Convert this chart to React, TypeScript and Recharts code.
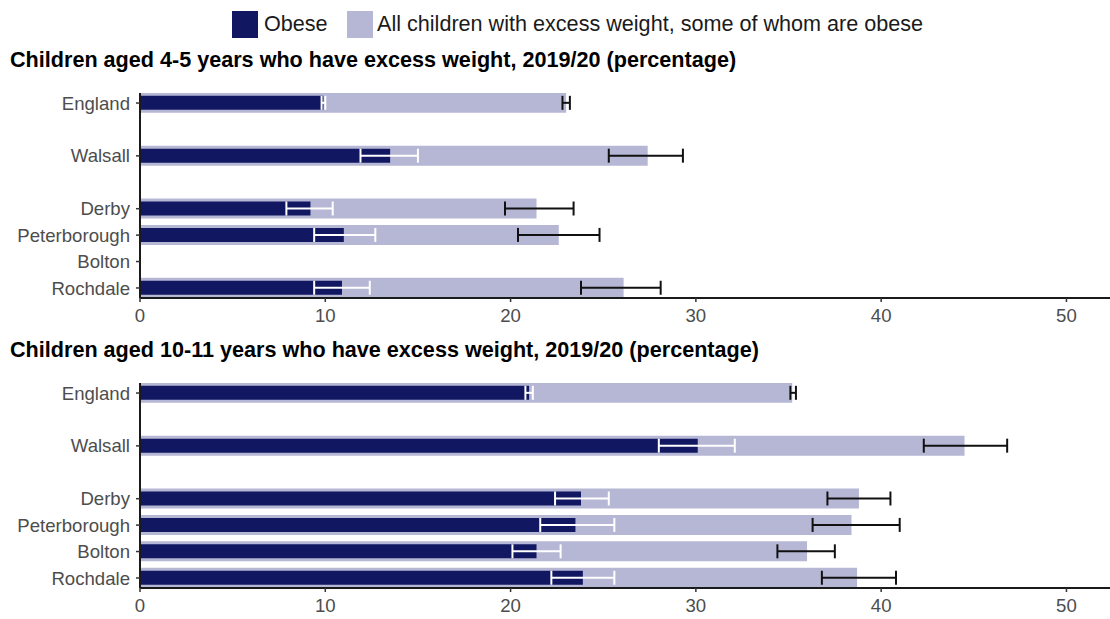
import React from "react";
import { BarChart, Bar, XAxis, YAxis, ErrorBar } from "recharts";

const categories = ["England", "Walsall", "Derby", "Peterborough", "Bolton", "Rochdale"];
const positions = [0, 2, 4, 5, 6, 7];
const xTicks = [0, 10, 20, 30, 40, 50];

// Children aged 4-5
const obese4: (number | null)[] = [9.9, 13.5, 9.2, 11.0, null, 10.9];
const obese4Lo: (number | null)[] = [9.8, 11.9, 7.9, 9.4, null, 9.4];
const obese4Hi: (number | null)[] = [10.0, 15.0, 10.4, 12.7, null, 12.4];
const excess4: (number | null)[] = [23.0, 27.4, 21.4, 22.6, null, 26.1];
const excess4Lo: (number | null)[] = [22.8, 25.3, 19.7, 20.4, null, 23.8];
const excess4Hi: (number | null)[] = [23.2, 29.3, 23.4, 24.8, null, 28.1];

// Children aged 10-11
const obese10: (number | null)[] = [21.0, 30.1, 23.8, 23.5, 21.4, 23.9];
const obese10Lo: (number | null)[] = [20.8, 28.0, 22.4, 21.6, 20.1, 22.2];
const obese10Hi: (number | null)[] = [21.2, 32.1, 25.3, 25.6, 22.7, 25.6];
const excess10: (number | null)[] = [35.2, 44.5, 38.8, 38.4, 36.0, 38.7];
const excess10Lo: (number | null)[] = [35.1, 42.3, 37.1, 36.3, 34.4, 36.8];
const excess10Hi: (number | null)[] = [35.4, 46.8, 40.5, 41.0, 37.5, 40.8];

const DARK = "#111761";
const LIGHT = "#b6b7d5";
const FONT = "'Liberation Sans', Arial, sans-serif";

function build(
  ob: (number | null)[], obLo: (number | null)[], obHi: (number | null)[],
  ex: (number | null)[], exLo: (number | null)[], exHi: (number | null)[]
) {
  return categories.map((name, i) => ({
    name,
    pos: positions[i],
    obese: ob[i],
    obeseErr: ob[i] == null ? null : [(ob[i] as number) - (obLo[i] as number), (obHi[i] as number) - (ob[i] as number)],
    excess: ex[i],
    excessErr: ex[i] == null ? null : [(ex[i] as number) - (exLo[i] as number), (exHi[i] as number) - (ex[i] as number)],
  }));
}

const data4 = build(obese4, obese4Lo, obese4Hi, excess4, excess4Lo, excess4Hi);
const data10 = build(obese10, obese10Lo, obese10Hi, excess10, excess10Lo, excess10Hi);

const labelFor = (v: number) => {
  const i = positions.indexOf(v);
  return i >= 0 ? categories[i] : "";
};

function Panel({ data, top }: { data: any[]; top: number }) {
  return (
    <div style={{ position: "absolute", left: 0, top }}>
      <BarChart
        width={1110}
        height={249}
        data={data}
        layout="vertical"
        margin={{ top: 13, right: 0, bottom: 0, left: 10 }}
      >
        <XAxis
          type="number"
          domain={[0, 52.35]}
          ticks={xTicks}
          allowDataOverflow
          interval={0}
          height={31}
          axisLine={{ stroke: "#1a1a1a", strokeWidth: 2 }}
          tickLine={{ stroke: "#333333", strokeWidth: 1.5 }}
          tickSize={4}
          tickMargin={7}
          tick={{ fill: "#4d4d4d", fontSize: 18.6, fontFamily: FONT }}
        />
        <YAxis
          yAxisId="a"
          type="number"
          dataKey="pos"
          domain={[-0.38, 7.38]}
          allowDataOverflow
          ticks={positions}
          interval={0}
          tickFormatter={labelFor}
          width={130}
          axisLine={{ stroke: "#1a1a1a", strokeWidth: 2 }}
          tickLine={{ stroke: "#333333", strokeWidth: 1.5 }}
          tickSize={4}
          tickMargin={6}
          tick={{ fill: "#4d4d4d", fontSize: 18.6, fontFamily: FONT }}
        />
        <YAxis
          yAxisId="b"
          type="number"
          dataKey="pos"
          domain={[-0.38, 7.38]}
          allowDataOverflow
          hide
        />
        <Bar yAxisId="a" dataKey="excess" fill={LIGHT} barSize={20} isAnimationActive={false}>
          <ErrorBar dataKey="excessErr" direction="x" stroke="#111111" strokeWidth={2} width={7} />
        </Bar>
        <Bar yAxisId="b" dataKey="obese" fill={DARK} barSize={14} isAnimationActive={false}>
          <ErrorBar dataKey="obeseErr" direction="x" stroke="#ffffff" strokeWidth={2} width={7} />
        </Bar>
      </BarChart>
    </div>
  );
}

export default function App() {
  return (
    <div
      style={{
        position: "absolute",
        left: 0,
        top: 0,
        width: 1110,
        height: 619,
        background: "#ffffff",
        fontFamily: FONT,
        overflow: "hidden",
      }}
    >
      {/* Legend */}
      <div style={{ position: "absolute", left: 232, top: 11, width: 26, height: 27, background: DARK }} />
      <div style={{ position: "absolute", left: 264, top: 10, fontSize: 21.6, lineHeight: "28px", color: "#1a1a1a", whiteSpace: "nowrap" }}>
        Obese
      </div>
      <div style={{ position: "absolute", left: 347, top: 11, width: 26, height: 27, background: LIGHT }} />
      <div style={{ position: "absolute", left: 377, top: 10, fontSize: 21.6, lineHeight: "28px", color: "#1a1a1a", whiteSpace: "nowrap" }}>
        All children with excess weight, some of whom are obese
      </div>

      {/* Titles */}
      <div style={{ position: "absolute", left: 10, top: 46, fontSize: 21.6, fontWeight: "bold", lineHeight: "28px", color: "#000", whiteSpace: "nowrap" }}>
        Children aged 4-5 years who have excess weight, 2019/20 (percentage)
      </div>
      <Panel data={data4} top={80} />

      <div style={{ position: "absolute", left: 10, top: 336, fontSize: 21.6, fontWeight: "bold", lineHeight: "28px", color: "#000", whiteSpace: "nowrap" }}>
        Children aged 10-11 years who have excess weight, 2019/20 (percentage)
      </div>
      <Panel data={data10} top={370} />
    </div>
  );
}
